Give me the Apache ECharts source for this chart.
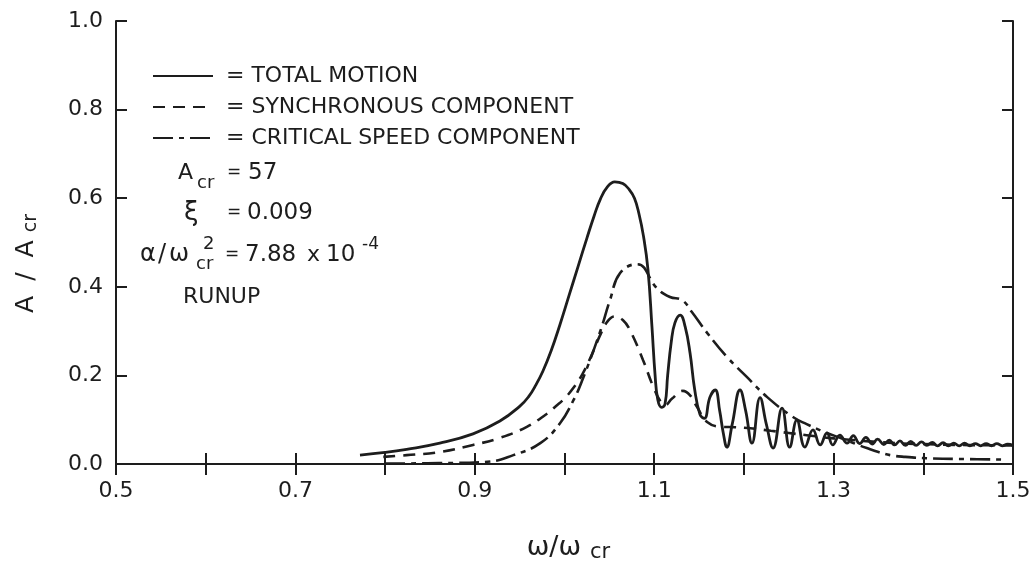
<!DOCTYPE html>
<html>
<head>
<meta charset="utf-8">
<script src="https://cdn.jsdelivr.net/npm/echarts@6/dist/echarts.min.js"></script>
<style>
  html, body { margin: 0; padding: 0; background: #ffffff; }
  #chart { width: 1032px; height: 563px; }
</style>
</head>
<body>
<div id="chart"></div>
<script>
// Rotor runup response: amplitude ratio A/Acr against speed ratio ω/ωcr
const seriesNames = ['TOTAL MOTION', 'SYNCHRONOUS COMPONENT', 'CRITICAL SPEED COMPONENT'];

const totalMotion = [
  [0.772, 0.020], [0.800, 0.026], [0.824, 0.033], [0.861, 0.047], [0.898, 0.068],
  [0.928, 0.097], [0.950, 0.130], [0.960, 0.152], [0.968, 0.178], [0.976, 0.210],
  [0.985, 0.255], [0.995, 0.315], [1.005, 0.380], [1.015, 0.445], [1.025, 0.510],
  [1.033, 0.560], [1.040, 0.598], [1.048, 0.626], [1.056, 0.637], [1.065, 0.633],
  [1.072, 0.620], [1.078, 0.600], [1.083, 0.565], [1.088, 0.515], [1.093, 0.440],
  [1.0975, 0.310], [1.101, 0.200], [1.104, 0.145], [1.108, 0.128], [1.112, 0.135],
  [1.115, 0.200], [1.119, 0.275], [1.123, 0.318], [1.129, 0.336], [1.1345, 0.310],
  [1.140, 0.250], [1.145, 0.170], [1.151, 0.112], [1.156, 0.103], [1.162, 0.150],
  [1.168, 0.167], [1.173, 0.120], [1.177, 0.070], [1.181, 0.038], [1.187, 0.090],
  [1.1957, 0.167], [1.202, 0.120], [1.209, 0.047], [1.218, 0.150], [1.225, 0.090],
  [1.2325, 0.036], [1.2425, 0.126], [1.251, 0.038], [1.259, 0.099], [1.268, 0.038],
  [1.277, 0.077], [1.285, 0.043], [1.2926, 0.070], [1.299, 0.043], [1.307, 0.065],
  [1.315, 0.047], [1.322, 0.064], [1.329, 0.046], [1.336, 0.060], [1.343, 0.045],
  [1.349, 0.056], [1.356, 0.044], [1.362, 0.054], [1.368, 0.043], [1.374, 0.052],
  [1.380, 0.042], [1.386, 0.051], [1.392, 0.042], [1.398, 0.050], [1.404, 0.042],
  [1.410, 0.049], [1.416, 0.041], [1.422, 0.048], [1.428, 0.041], [1.434, 0.047],
  [1.440, 0.041], [1.446, 0.047], [1.452, 0.041], [1.458, 0.046], [1.464, 0.041],
  [1.470, 0.046], [1.476, 0.041], [1.482, 0.046], [1.488, 0.041], [1.494, 0.045],
  [1.500, 0.042]
];

const synchronous = [
  [0.798, 0.016], [0.824, 0.020], [0.861, 0.027], [0.898, 0.043], [0.928, 0.059],
  [0.958, 0.084], [0.980, 0.113], [0.990, 0.130], [1.000, 0.148], [1.010, 0.172],
  [1.020, 0.203], [1.030, 0.245], [1.040, 0.292], [1.048, 0.322], [1.056, 0.333],
  [1.065, 0.325], [1.073, 0.302], [1.0875, 0.235], [1.099, 0.174], [1.108, 0.138],
  [1.112, 0.133], [1.120, 0.148], [1.132, 0.165], [1.140, 0.155], [1.1477, 0.129],
  [1.159, 0.095], [1.175, 0.084], [1.190, 0.083], [1.210, 0.080], [1.230, 0.075],
  [1.250, 0.070], [1.270, 0.065], [1.290, 0.060], [1.310, 0.056], [1.340, 0.051],
  [1.370, 0.047], [1.400, 0.045], [1.440, 0.043], [1.500, 0.042]
];

const criticalSpeed = [
  [0.800, 0.001], [0.860, 0.002], [0.914, 0.005], [0.943, 0.020], [0.973, 0.047],
  [0.995, 0.092], [1.010, 0.144], [1.020, 0.190], [1.0396, 0.298], [1.0507, 0.370],
  [1.062, 0.431], [1.081, 0.451], [1.103, 0.397], [1.1176, 0.377], [1.131, 0.370],
  [1.142, 0.343], [1.159, 0.296], [1.181, 0.242], [1.2035, 0.196], [1.226, 0.151],
  [1.2547, 0.106], [1.270, 0.090], [1.290, 0.072], [1.310, 0.057], [1.325, 0.045],
  [1.337, 0.036], [1.350, 0.027], [1.363, 0.020], [1.380, 0.016], [1.404, 0.013],
  [1.452, 0.011], [1.490, 0.010]
];

const xTickLabels = ['0.5', '0.7', '0.9', '1.1', '1.3', '1.5'];
const yTickLabels = ['0.0', '0.2', '0.4', '0.6', '0.8', '1.0'];

const INK = '#1d1d1d';
const FONT = 'DejaVu Sans';

const axisCommon = {
  axisLine: { show: true, lineStyle: { color: INK, width: 2 } },
  axisTick: { show: true, inside: true, length: 11, lineStyle: { color: INK, width: 2 } },
  splitLine: { show: false }
};

const xBase = Object.assign({ type: 'value', min: 0.5, max: 1.5, interval: 0.1 }, axisCommon);
const yBase = Object.assign({ type: 'value', min: 0, max: 1, interval: 0.2 }, axisCommon);

function lineSeries(name, data, type, width) {
  return {
    name: name,
    type: 'line',
    data: data,
    symbol: 'none',
    smooth: 0.45,
    lineStyle: { color: INK, width: width, type: type },
    itemStyle: { color: INK }
  };
}

const txt = (text, x, y, size, align) => ({
  type: 'text',
  style: {
    text: text, x: x, y: y,
    font: size + 'px "' + FONT + '"',
    fill: INK,
    textAlign: align || 'left',
    textVerticalAlign: 'middle'
  }
});

const chart = echarts.init(document.getElementById('chart'), null, { renderer: 'canvas' });
chart.setOption({
  animation: false,
  backgroundColor: '#ffffff',
  grid: { left: 116, right: 19, top: 21, bottom: 99, outerBoundsMode: 'none', containLabel: false },
  legend: {
    data: seriesNames,
    orient: 'vertical',
    left: 152,
    top: 64,
    padding: 0,
    itemWidth: 60,
    itemHeight: 14,
    itemGap: 7,
    selectedMode: false,
    formatter: '= {name}',
    itemStyle: { color: 'transparent', borderColor: 'transparent', borderWidth: 0, opacity: 0 },
    textStyle: { fontFamily: FONT, fontSize: 22, color: INK, lineHeight: 24, padding: [0, 0, 0, 8] }
  },
  xAxis: [
    Object.assign({}, xBase, {
      position: 'bottom',
      name: '{w|ω/ω}{s|cr}',
      nameLocation: 'middle',
      nameGap: 69,
      nameTextStyle: {
        padding: [0, 0, 0, 8],
        rich: {
          w: { fontFamily: FONT, fontSize: 27, color: INK, lineHeight: 30, verticalAlign: 'middle' },
          s: { fontFamily: FONT, fontSize: 21, color: INK, lineHeight: 18, verticalAlign: 'bottom', padding: [0, 0, 0, 9] }
        }
      },
      axisLabel: {
        margin: 16,
        fontFamily: FONT, fontSize: 22, color: INK,
        formatter: v => { const s = v.toFixed(1); return xTickLabels.includes(s) ? s : ''; }
      }
    }),
    Object.assign({}, xBase, { position: 'top', axisLabel: { show: false } })
  ],
  yAxis: [
    Object.assign({}, yBase, {
      position: 'left',
      name: '{a|A}{sl|/}{a|A}{s|cr}',
      nameLocation: 'middle',
      nameRotate: 90,
      nameGap: 75,
      nameTextStyle: {
        padding: [0, 48, 0, 0],
        rich: {
          a: { fontFamily: FONT, fontSize: 25, color: INK, lineHeight: 30, verticalAlign: 'middle', padding: [0, 6, 0, 6] },
          sl: { fontFamily: FONT, fontSize: 25, color: INK, lineHeight: 30, verticalAlign: 'middle', padding: [0, 9, 0, 9] },
          s: { fontFamily: FONT, fontSize: 19, color: INK, lineHeight: 16, verticalAlign: 'bottom', padding: [0, 0, 0, 2] }
        }
      },
      axisLabel: {
        margin: 13,
        fontFamily: FONT, fontSize: 22, color: INK,
        formatter: v => { const s = v.toFixed(1); return yTickLabels.includes(s) ? s : ''; }
      }
    }),
    Object.assign({}, yBase, { position: 'right', axisLabel: { show: false } })
  ],
  graphic: [
    // Run parameters
    txt('A', 178, 173, 22),
    txt('cr', 197, 183, 18),
    txt('=', 227, 173, 17),
    txt('57', 248, 173, 23),
    txt('ξ', 184, 213, 26),
    txt('=', 227, 213, 17),
    txt('0.009', 247, 213, 23),
    txt('α', 140, 255, 24),
    txt('/', 158, 255, 24),
    txt('ω', 169, 255, 24),
    txt('cr', 196, 264, 18),
    txt('2', 203, 244, 18),
    txt('=', 225, 255, 17),
    txt('7.88', 245, 255, 23),
    txt('x', 307, 255, 22),
    txt('10', 326, 255, 23),
    txt('-4', 362, 245, 17),
    txt('RUNUP', 183, 297, 22)
  ],
  series: [
    lineSeries(seriesNames[0], totalMotion, 'solid', 2.8),
    lineSeries(seriesNames[1], synchronous, [12, 8], 2.6),
    lineSeries(seriesNames[2], criticalSpeed, [20, 6, 5, 6], 2.6)
  ]
});
</script>
</body>
</html>
